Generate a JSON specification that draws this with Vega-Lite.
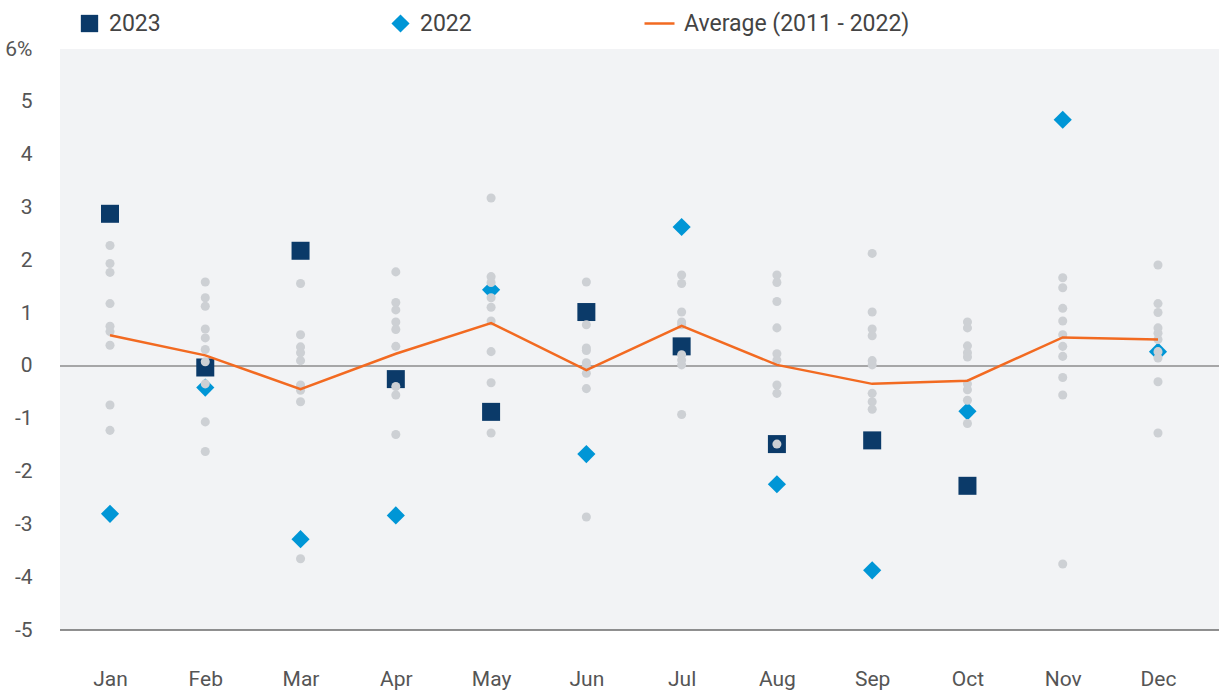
{
  "$schema": "https://vega.github.io/schema/vega-lite/v6.json",
  "autosize": {"type": "none"},
  "padding": {"left": 60, "top": 49, "right": 0, "bottom": 64},
  "width": 1159,
  "height": 581,
  "background": "#ffffff",
  "datasets": {
    "hist": [
      {"month": "Jan", "value": 2.28}, {"month": "Jan", "value": 1.94}, {"month": "Jan", "value": 1.77}, {"month": "Jan", "value": 1.18}, {"month": "Jan", "value": 0.75}, {"month": "Jan", "value": 0.65}, {"month": "Jan", "value": 0.39}, {"month": "Jan", "value": -0.74}, {"month": "Jan", "value": -1.22},
      {"month": "Feb", "value": 1.59}, {"month": "Feb", "value": 1.29}, {"month": "Feb", "value": 1.13}, {"month": "Feb", "value": 0.70}, {"month": "Feb", "value": 0.53}, {"month": "Feb", "value": 0.31}, {"month": "Feb", "value": 0.08}, {"month": "Feb", "value": -0.34}, {"month": "Feb", "value": -1.06}, {"month": "Feb", "value": -1.62},
      {"month": "Mar", "value": 1.56}, {"month": "Mar", "value": 0.59}, {"month": "Mar", "value": 0.36}, {"month": "Mar", "value": 0.25}, {"month": "Mar", "value": 0.10}, {"month": "Mar", "value": -0.36}, {"month": "Mar", "value": -0.46}, {"month": "Mar", "value": -0.68}, {"month": "Mar", "value": -3.65},
      {"month": "Apr", "value": 1.78}, {"month": "Apr", "value": 1.20}, {"month": "Apr", "value": 1.06}, {"month": "Apr", "value": 0.83}, {"month": "Apr", "value": 0.69}, {"month": "Apr", "value": 0.37}, {"month": "Apr", "value": -0.39}, {"month": "Apr", "value": -0.55}, {"month": "Apr", "value": -1.30},
      {"month": "May", "value": 3.18}, {"month": "May", "value": 1.69}, {"month": "May", "value": 1.58}, {"month": "May", "value": 1.29}, {"month": "May", "value": 1.11}, {"month": "May", "value": 0.85}, {"month": "May", "value": 0.27}, {"month": "May", "value": -0.32}, {"month": "May", "value": -1.27},
      {"month": "Jun", "value": 1.59}, {"month": "Jun", "value": 0.78}, {"month": "Jun", "value": 0.34}, {"month": "Jun", "value": 0.29}, {"month": "Jun", "value": 0.06}, {"month": "Jun", "value": -0.01}, {"month": "Jun", "value": -0.14}, {"month": "Jun", "value": -0.43}, {"month": "Jun", "value": -2.86},
      {"month": "Jul", "value": 1.72}, {"month": "Jul", "value": 1.56}, {"month": "Jul", "value": 1.02}, {"month": "Jul", "value": 0.83}, {"month": "Jul", "value": 0.78}, {"month": "Jul", "value": 0.21}, {"month": "Jul", "value": 0.11}, {"month": "Jul", "value": 0.02}, {"month": "Jul", "value": -0.92},
      {"month": "Aug", "value": 1.72}, {"month": "Aug", "value": 1.58}, {"month": "Aug", "value": 1.22}, {"month": "Aug", "value": 0.72}, {"month": "Aug", "value": 0.23}, {"month": "Aug", "value": 0.11}, {"month": "Aug", "value": -0.36}, {"month": "Aug", "value": -0.52}, {"month": "Aug", "value": -1.48},
      {"month": "Sep", "value": 2.13}, {"month": "Sep", "value": 1.02}, {"month": "Sep", "value": 0.70}, {"month": "Sep", "value": 0.57}, {"month": "Sep", "value": 0.10}, {"month": "Sep", "value": 0.02}, {"month": "Sep", "value": -0.52}, {"month": "Sep", "value": -0.68}, {"month": "Sep", "value": -0.82},
      {"month": "Oct", "value": 0.83}, {"month": "Oct", "value": 0.72}, {"month": "Oct", "value": 0.38}, {"month": "Oct", "value": 0.25}, {"month": "Oct", "value": 0.17}, {"month": "Oct", "value": -0.34}, {"month": "Oct", "value": -0.45}, {"month": "Oct", "value": -0.65}, {"month": "Oct", "value": -1.09},
      {"month": "Nov", "value": 1.67}, {"month": "Nov", "value": 1.48}, {"month": "Nov", "value": 1.09}, {"month": "Nov", "value": 0.85}, {"month": "Nov", "value": 0.59}, {"month": "Nov", "value": 0.37}, {"month": "Nov", "value": 0.18}, {"month": "Nov", "value": -0.22}, {"month": "Nov", "value": -0.55}, {"month": "Nov", "value": -3.75},
      {"month": "Dec", "value": 1.91}, {"month": "Dec", "value": 1.18}, {"month": "Dec", "value": 1.01}, {"month": "Dec", "value": 0.72}, {"month": "Dec", "value": 0.62}, {"month": "Dec", "value": 0.50}, {"month": "Dec", "value": 0.27}, {"month": "Dec", "value": 0.15}, {"month": "Dec", "value": -0.30}, {"month": "Dec", "value": -1.27}
    ],
    "y2023": [
      {"month": "Jan", "value": 2.88, "series": "2023"}, {"month": "Feb", "value": -0.03, "series": "2023"}, {"month": "Mar", "value": 2.18, "series": "2023"}, {"month": "Apr", "value": -0.25, "series": "2023"}, {"month": "May", "value": -0.87, "series": "2023"}, {"month": "Jun", "value": 1.02, "series": "2023"}, {"month": "Jul", "value": 0.37, "series": "2023"}, {"month": "Aug", "value": -1.48, "series": "2023"}, {"month": "Sep", "value": -1.41, "series": "2023"}, {"month": "Oct", "value": -2.27, "series": "2023"}
    ],
    "y2022": [
      {"month": "Jan", "value": -2.8, "series": "2022"}, {"month": "Feb", "value": -0.41, "series": "2022"}, {"month": "Mar", "value": -3.28, "series": "2022"}, {"month": "Apr", "value": -2.83, "series": "2022"}, {"month": "May", "value": 1.44, "series": "2022"}, {"month": "Jun", "value": -1.67, "series": "2022"}, {"month": "Jul", "value": 2.63, "series": "2022"}, {"month": "Aug", "value": -2.24, "series": "2022"}, {"month": "Sep", "value": -3.87, "series": "2022"}, {"month": "Oct", "value": -0.86, "series": "2022"}, {"month": "Nov", "value": 4.66, "series": "2022"}, {"month": "Dec", "value": 0.27, "series": "2022"}
    ],
    "avg": [
      {"month": "Jan", "value": 0.58, "series": "Average (2011 - 2022)"}, {"month": "Feb", "value": 0.2, "series": "Average (2011 - 2022)"}, {"month": "Mar", "value": -0.44, "series": "Average (2011 - 2022)"}, {"month": "Apr", "value": 0.23, "series": "Average (2011 - 2022)"}, {"month": "May", "value": 0.81, "series": "Average (2011 - 2022)"}, {"month": "Jun", "value": -0.08, "series": "Average (2011 - 2022)"}, {"month": "Jul", "value": 0.76, "series": "Average (2011 - 2022)"}, {"month": "Aug", "value": 0.02, "series": "Average (2011 - 2022)"}, {"month": "Sep", "value": -0.34, "series": "Average (2011 - 2022)"}, {"month": "Oct", "value": -0.28, "series": "Average (2011 - 2022)"}, {"month": "Nov", "value": 0.54, "series": "Average (2011 - 2022)"}, {"month": "Dec", "value": 0.50, "series": "Average (2011 - 2022)"}
    ],
    "zero": [{"z": 0}],
    "base": [{"z": -5}]
  },
  "layer": [
    {
      "data": {"name": "zero"},
      "mark": {"type": "rule", "color": "#8c8c8c", "strokeWidth": 1.5},
      "encoding": {"y": {"field": "z", "type": "quantitative", "scale": {"domain": [-5, 6], "nice": false, "zero": false}}}
    },
    {
      "data": {"name": "base"},
      "mark": {"type": "rule", "color": "#6b6b6b", "strokeWidth": 1.5},
      "encoding": {"y": {"field": "z", "type": "quantitative"}}
    },
    {
      "data": {"name": "y2023"},
      "mark": {"type": "point", "shape": "square", "filled": true, "size": 324, "opacity": 1},
      "encoding": {
        "x": {"field": "month", "type": "ordinal", "sort": ["Jan","Feb","Mar","Apr","May","Jun","Jul","Aug","Sep","Oct","Nov","Dec"], "title": null, "scale": {"range": [50, 1098], "padding": 0}},
        "y": {"field": "value", "type": "quantitative", "title": null},
        "color": {"field": "series", "type": "nominal", "title": null, "scale": {"domain": ["2023"], "range": ["#0b3a69"]},
          "legend": {"orient": "none", "legendX": 18, "legendY": -37, "symbolType": "square", "symbolSize": 300, "labelOffset": 8, "symbolOpacity": 1}}
      }
    },
    {
      "data": {"name": "y2022"},
      "mark": {"type": "point", "shape": "diamond", "filled": true, "size": 330, "opacity": 1},
      "encoding": {
        "x": {"field": "month", "type": "ordinal", "sort": ["Jan","Feb","Mar","Apr","May","Jun","Jul","Aug","Sep","Oct","Nov","Dec"], "title": null},
        "y": {"field": "value", "type": "quantitative", "title": null},
        "color": {"field": "series", "type": "nominal", "title": null, "scale": {"domain": ["2022"], "range": ["#0096d6"]},
          "legend": {"orient": "none", "legendX": 329, "legendY": -37, "symbolType": "diamond", "symbolSize": 330, "labelOffset": 8, "symbolOpacity": 1}}
      }
    },
    {
      "data": {"name": "hist"},
      "mark": {"type": "circle", "size": 82, "color": "#cdd0d4", "opacity": 1},
      "encoding": {
        "x": {"field": "month", "type": "ordinal", "sort": ["Jan","Feb","Mar","Apr","May","Jun","Jul","Aug","Sep","Oct","Nov","Dec"], "title": null},
        "y": {"field": "value", "type": "quantitative", "title": null,
          "axis": {"values": [-5,-4,-3,-2,-1,0,1,2,3,4,5,6], "labelExpr": "datum.value == 6 ? '6%' : '' + datum.value"}}
      }
    },
    {
      "data": {"name": "avg"},
      "mark": {"type": "line", "strokeWidth": 2.5},
      "encoding": {
        "x": {"field": "month", "type": "ordinal", "sort": ["Jan","Feb","Mar","Apr","May","Jun","Jul","Aug","Sep","Oct","Nov","Dec"], "title": null},
        "y": {"field": "value", "type": "quantitative", "title": null},
        "color": {"field": "series", "type": "nominal", "title": null, "scale": {"domain": ["Average (2011 - 2022)"], "range": ["#f26a21"]},
          "legend": {"orient": "none", "legendX": 583, "legendY": -42, "symbolType": "stroke", "symbolSize": 900, "symbolStrokeWidth": 2.5, "labelOffset": 8, "labelLimit": 400}}
      }
    }
  ],
  "resolve": {"scale": {"color": "independent"}, "legend": {"color": "independent"}},
  "config": {
    "view": {"fill": "#f2f3f5", "stroke": null},
    "axis": {"domain": false, "ticks": false, "grid": false, "labelFont": "Roboto", "labelFontSize": 21, "labelColor": "#555555", "title": null},
    "axisX": {"labelPadding": 38, "labelAngle": 0},
    "axisY": {"labelPadding": 28},
    "legend": {"labelFont": "Roboto", "labelFontSize": 23, "labelColor": "#444444", "padding": 0, "title": null, "labelLimit": 400}
  }
}
